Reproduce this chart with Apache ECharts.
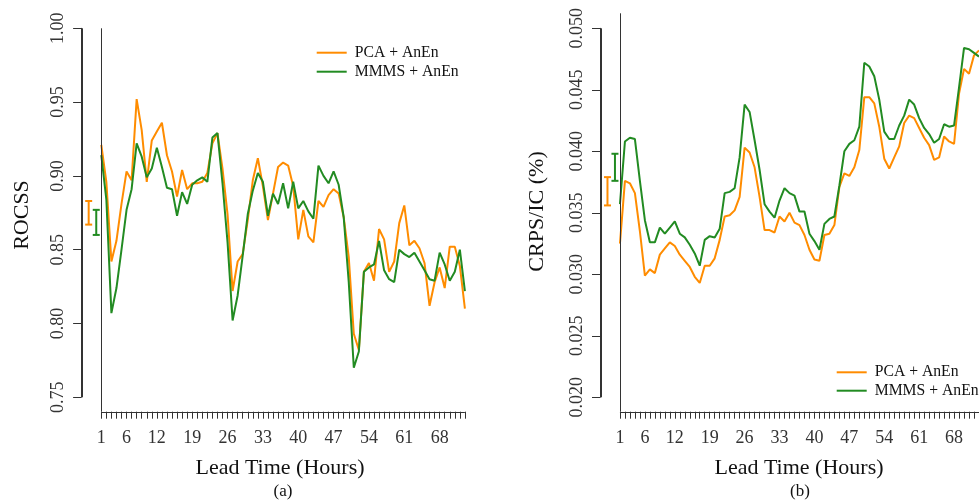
<!DOCTYPE html>
<html>
<head>
<meta charset="utf-8">
<script src="https://cdn.jsdelivr.net/npm/echarts@6/dist/echarts.min.js"></script>
<style>
  html, body { margin: 0; padding: 0; background: #ffffff; }
  #chart { width: 979px; height: 501px; }
</style>
</head>
<body>
<div id="chart"></div>
<script>
// Lead times (hours) and the labelled ticks on the x axes
const leadHours = [1, 2, 3, 4, 5, 6, 7, 8, 9, 10, 11, 12, 13, 14, 15, 16, 17, 18, 19, 20,
  21, 22, 23, 24, 25, 26, 27, 28, 29, 30, 31, 32, 33, 34, 35, 36, 37, 38, 39, 40,
  41, 42, 43, 44, 45, 46, 47, 48, 49, 50, 51, 52, 53, 54, 55, 56, 57, 58, 59, 60,
  61, 62, 63, 64, 65, 66, 67, 68, 69, 70, 71, 72, 73];
const hourLabels = [1, 6, 12, 19, 26, 33, 40, 47, 54, 61, 68];

// (a) ROCSS by lead time
const rocssPCA = [0.921, 0.896, 0.842, 0.856, 0.881, 0.903, 0.897, 0.952, 0.931, 0.896,
  0.924, 0.930, 0.936, 0.914, 0.903, 0.886, 0.904, 0.891, 0.895, 0.895,
  0.896, 0.902, 0.922, 0.929, 0.905, 0.874, 0.822, 0.842, 0.847, 0.870,
  0.897, 0.912, 0.893, 0.870, 0.888, 0.906, 0.909, 0.907, 0.893, 0.857,
  0.877, 0.859, 0.855, 0.883, 0.879, 0.887, 0.891, 0.888, 0.872, 0.845,
  0.793, 0.782, 0.835, 0.841, 0.829, 0.864, 0.857, 0.835, 0.842, 0.868,
  0.880, 0.853, 0.856, 0.851, 0.841, 0.812, 0.828, 0.838, 0.824, 0.852,
  0.852, 0.839, 0.810];
const rocssMMMS = [0.914, 0.884, 0.807, 0.824, 0.850, 0.877, 0.891, 0.922, 0.913, 0.899,
  0.905, 0.919, 0.906, 0.892, 0.891, 0.873, 0.889, 0.881, 0.894, 0.897,
  0.899, 0.896, 0.926, 0.929, 0.895, 0.855, 0.802, 0.819, 0.846, 0.874,
  0.890, 0.902, 0.896, 0.873, 0.888, 0.881, 0.895, 0.878, 0.896, 0.878,
  0.883, 0.876, 0.871, 0.907, 0.900, 0.895, 0.903, 0.894, 0.872, 0.828,
  0.770, 0.781, 0.835, 0.838, 0.840, 0.856, 0.836, 0.830, 0.828, 0.850,
  0.847, 0.845, 0.848, 0.842, 0.836, 0.830, 0.829, 0.848, 0.840, 0.829,
  0.835, 0.850, 0.822];

// (b) CRPS/IC by lead time
const crpsPCA = [0.0325, 0.0376, 0.0374, 0.0366, 0.0335, 0.0299, 0.0304, 0.0301, 0.0316, 0.0321,
  0.0326, 0.0323, 0.0316, 0.0311, 0.0306, 0.0298, 0.0293, 0.0307, 0.0307, 0.0313,
  0.0328, 0.0347, 0.0348, 0.0352, 0.0363, 0.0403, 0.0399, 0.0387, 0.0363, 0.0336,
  0.0336, 0.0334, 0.0347, 0.0343, 0.0350, 0.0342, 0.0340, 0.0332, 0.0320, 0.0312,
  0.0311, 0.0332, 0.0333, 0.0340, 0.0371, 0.0382, 0.0380, 0.0387, 0.0401, 0.0444,
  0.0444, 0.0439, 0.0420, 0.0394, 0.0386, 0.0395, 0.0404, 0.0423, 0.0429, 0.0427,
  0.0419, 0.0411, 0.0405, 0.0393, 0.0395, 0.0412, 0.0408, 0.0406, 0.0447, 0.0467,
  0.0463, 0.0478, 0.0482];
const crpsMMMS = [0.0357, 0.0408, 0.0411, 0.0410, 0.0376, 0.0344, 0.0326, 0.0326, 0.0338, 0.0333,
  0.0338, 0.0343, 0.0333, 0.0330, 0.0324, 0.0317, 0.0307, 0.0328, 0.0331, 0.0330,
  0.0337, 0.0366, 0.0367, 0.0370, 0.0395, 0.0438, 0.0432, 0.0409, 0.0385, 0.0357,
  0.0351, 0.0346, 0.0360, 0.0370, 0.0366, 0.0364, 0.0351, 0.0351, 0.0333, 0.0327,
  0.0320, 0.0341, 0.0345, 0.0347, 0.0372, 0.0400, 0.0406, 0.0409, 0.0420, 0.0472,
  0.0469, 0.0461, 0.0442, 0.0416, 0.0410, 0.0410, 0.0421, 0.0429, 0.0442, 0.0438,
  0.0427, 0.0419, 0.0414, 0.0407, 0.0410, 0.0422, 0.0420, 0.0421, 0.0452, 0.0484,
  0.0483, 0.0480, 0.0477];

// Spread bars drawn left of the first lead time: [position, low, high]
const rocssBarPCA = [-1.5, 0.867, 0.883];
const rocssBarMMMS = [0, 0.860, 0.877];
const crpsBarPCA = [-1.5, 0.0356, 0.0379];
const crpsBarMMMS = [0, 0.0376, 0.0398];

// y tick values
const rocssTicks = [0.75, 0.80, 0.85, 0.90, 0.95, 1.00];
const crpsTicks = [0.020, 0.025, 0.030, 0.035, 0.040, 0.045, 0.050];

const SERIF = 'Liberation Serif';
const ORANGE = '#FF8C00';
const GREEN = '#228B22';
const AXIS = '#333333';
const X_MIN = -3, X_MAX = 73;

const pairs = (ys) => leadHours.map((h, i) => [h, ys[i]]);

function errorBarItem(params, api) {
  const x = api.value(0);
  const lo = api.coord([x, api.value(1)]);
  const hi = api.coord([x, api.value(2)]);
  const half = 3.5;
  const style = { stroke: api.visual('color'), lineWidth: 2, fill: null };
  return {
    type: 'group',
    children: [
      { type: 'line', shape: { x1: lo[0], y1: lo[1], x2: hi[0], y2: hi[1] }, style },
      { type: 'line', shape: { x1: lo[0] - half, y1: lo[1], x2: lo[0] + half, y2: lo[1] }, style },
      { type: 'line', shape: { x1: hi[0] - half, y1: hi[1], x2: hi[0] + half, y2: hi[1] }, style }
    ]
  };
}

function errorBar(idx, bar, color) {
  return {
    type: 'custom', xAxisIndex: idx, yAxisIndex: idx, silent: true,
    itemStyle: { color: color }, renderItem: errorBarItem, data: [bar], clip: false
  };
}

function lineSeries(idx, name, ys, color) {
  return {
    type: 'line', name: name, xAxisIndex: idx, yAxisIndex: idx,
    data: pairs(ys), showSymbol: false, symbol: 'none', silent: true,
    lineStyle: { color: color, width: 2 }, itemStyle: { color: color },
    emphasis: { disabled: true }
  };
}

// Segment between two data points: [x1, y1, x2, y2]
function segmentItem(params, api) {
  const a = api.coord([api.value(0), api.value(1)]);
  const b = api.coord([api.value(2), api.value(3)]);
  const crisp = (v) => Math.round(v) + 0.5;
  const vertical = Math.abs(a[0] - b[0]) < 0.01;
  return {
    type: 'line',
    shape: vertical
      ? { x1: crisp(a[0]), y1: a[1], x2: crisp(b[0]), y2: b[1] }
      : { x1: a[0], y1: crisp(a[1]), x2: b[0], y2: crisp(b[1]) },
    style: { stroke: AXIS, lineWidth: 1, fill: null }
  };
}

function segments(idx, rows) {
  return {
    type: 'custom', xAxisIndex: idx, yAxisIndex: idx, silent: true, clip: false, z: 10,
    renderItem: segmentItem, data: rows
  };
}

const ROCSS_MIN = 0.74024, ROCSS_MAX = 1.0;
const CRPS_MIN = 0.01883, CRPS_MAX = 0.05122;

// Layout: each panel has a plotting grid and a tick grid whose height spans
// only the labelled range, so the y axis line stops at the end ticks.
const PANEL_A = { left: 81.1, width: 383.8 };
const PANEL_B = { left: 600, width: 381.9 };
const PLOT_BOTTOM = 411.7;
const TICK_TOP = 28.3, TICK_BOTTOM = 397.3;
const RULE_X = X_MIN + 0.12; // y axis rule, just inside the panel edge

function xAxisOf(idx) {
  return {
    type: 'value', gridIndex: idx, min: X_MIN, max: X_MAX,
    axisLine: { show: false, onZero: false }, splitLine: { show: false },
    axisTick: { show: true, inside: false, customValues: leadHours, length: 7, lineStyle: { color: AXIS, width: 1 } },
    axisLabel: {
      customValues: hourLabels, margin: 18, fontFamily: SERIF, fontSize: 18, color: '#333'
    }
  };
}

function hiddenXAxis(idx) {
  return { type: 'value', gridIndex: idx, min: X_MIN, max: X_MAX, show: false };
}

function hiddenYAxis(idx, min, max) {
  return { type: 'value', gridIndex: idx, min: min, max: max, show: false };
}

function tickYAxis(idx, ticks, digits) {
  return {
    type: 'value', gridIndex: idx, min: ticks[0], max: ticks[ticks.length - 1],
    interval: ticks[1] - ticks[0], z: 10,
    axisLine: { show: true, onZero: false, lineStyle: { color: AXIS, width: 1 } },
    splitLine: { show: false },
    axisTick: { show: true, inside: false, customValues: ticks, length: 8, lineStyle: { color: AXIS, width: 1 } },
    axisLabel: {
      customValues: ticks, rotate: 90, margin: 14, fontFamily: SERIF, fontSize: 18, color: '#333',
      formatter: (v) => v.toFixed(digits)
    }
  };
}

const legendBase = {
  orient: 'vertical', icon: 'rect', itemWidth: 30, itemHeight: 2,
  selectedMode: false, data: ['PCA + AnEn', 'MMMS + AnEn'],
  textStyle: { fontFamily: SERIF, fontSize: 15.7, lineHeight: 16, color: '#111', padding: [0, 0, 0, 3] }
};

const chart = echarts.init(document.getElementById('chart'), null, { renderer: 'canvas' });
chart.setOption({
  animation: false,
  backgroundColor: '#ffffff',
  grid: [
    { left: PANEL_A.left, width: PANEL_A.width, top: 28.3, height: PLOT_BOTTOM - 28.3 },
    { left: PANEL_B.left, width: PANEL_B.width, top: 13.3, height: PLOT_BOTTOM - 13.3 },
    { left: PANEL_A.left, width: PANEL_A.width, top: TICK_TOP, height: TICK_BOTTOM - TICK_TOP },
    { left: PANEL_B.left, width: PANEL_B.width, top: TICK_TOP, height: TICK_BOTTOM - TICK_TOP }
  ],
  xAxis: [xAxisOf(0), xAxisOf(1), hiddenXAxis(2), hiddenXAxis(3)],
  yAxis: [
    hiddenYAxis(0, ROCSS_MIN, ROCSS_MAX),
    hiddenYAxis(1, CRPS_MIN, CRPS_MAX),
    tickYAxis(2, rocssTicks, 2),
    tickYAxis(3, crpsTicks, 3)
  ],
  legend: [
    Object.assign({}, legendBase, { left: 311.7, top: 39.7, itemGap: 3 }),
    Object.assign({}, legendBase, { left: 831.7, top: 359.3, itemGap: 2.4 })
  ],
  series: [
    // rule at hour 1 and the x axis baseline
    segments(0, [[1, ROCSS_MIN, 1, ROCSS_MAX], [1, ROCSS_MIN, X_MAX, ROCSS_MIN]]),
    segments(1, [[1, CRPS_MIN, 1, CRPS_MAX], [1, CRPS_MIN, X_MAX, CRPS_MIN]]),
    // y axis rule over the labelled range
    segments(2, [[RULE_X, rocssTicks[0], RULE_X, rocssTicks[rocssTicks.length - 1]]]),
    segments(3, [[RULE_X, crpsTicks[0], RULE_X, crpsTicks[crpsTicks.length - 1]]]),
    lineSeries(0, 'PCA + AnEn', rocssPCA, ORANGE),
    lineSeries(0, 'MMMS + AnEn', rocssMMMS, GREEN),
    lineSeries(1, 'PCA + AnEn', crpsPCA, ORANGE),
    lineSeries(1, 'MMMS + AnEn', crpsMMMS, GREEN),
    errorBar(0, rocssBarPCA, ORANGE),
    errorBar(0, rocssBarMMMS, GREEN),
    errorBar(1, crpsBarPCA, ORANGE),
    errorBar(1, crpsBarMMMS, GREEN)
  ],
  graphic: [
    { type: 'text', x: 22, y: 215, rotation: Math.PI / 2,
      style: { text: 'ROCSS', fontFamily: SERIF, fontSize: 22, fill: '#111', align: 'center', verticalAlign: 'middle' } },
    { type: 'text', x: 537, y: 211.5, rotation: Math.PI / 2,
      style: { text: 'CRPS/IC (%)', fontFamily: SERIF, fontSize: 22, fill: '#111', align: 'center', verticalAlign: 'middle' } },
    { type: 'text', x: 280, y: 468,
      style: { text: 'Lead Time (Hours)', fontFamily: SERIF, fontSize: 22, fill: '#111', align: 'center', verticalAlign: 'middle' } },
    { type: 'text', x: 283, y: 492,
      style: { text: '(a)', fontFamily: SERIF, fontSize: 17, fill: '#111', align: 'center', verticalAlign: 'middle' } },
    { type: 'text', x: 799, y: 468,
      style: { text: 'Lead Time (Hours)', fontFamily: SERIF, fontSize: 22, fill: '#111', align: 'center', verticalAlign: 'middle' } },
    { type: 'text', x: 800, y: 492,
      style: { text: '(b)', fontFamily: SERIF, fontSize: 17, fill: '#111', align: 'center', verticalAlign: 'middle' } }
  ]
});
</script>
</body>
</html>
